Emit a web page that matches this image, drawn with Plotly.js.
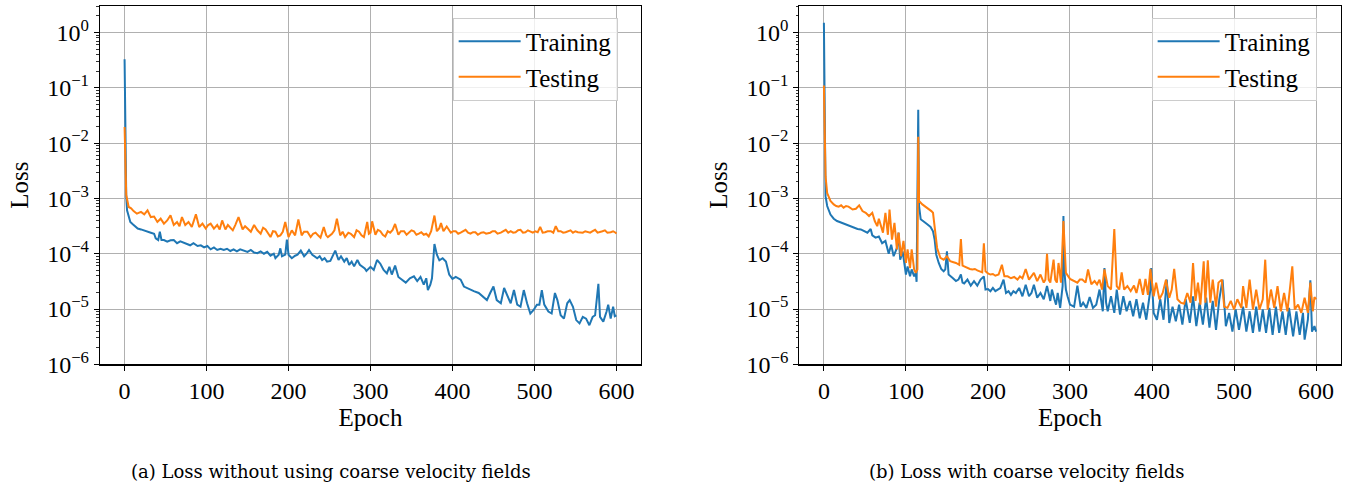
<!DOCTYPE html>
<html>
<head>
<meta charset="utf-8">
<script src="https://cdn.plot.ly/plotly-3.0.1.min.js"></script>
<style>html,body{margin:0;padding:0;background:#fff;}#chart{width:1346px;height:484px;}</style>
</head>
<body>
<div id="chart"></div>
<script>
// ---------- (a) Loss without using coarse velocity fields ----------
const aTrainEpoch = [0,1,2,3,5,7,10,13,16,20,24,28,32,36,38,41,43,45,48,52,56,60,64,68,72,76,80,84,89,93,97,101,105,109,113,117,121,125,129,133,137,141,146,150,154,158,162,166,170,174,178,182,184,188,190,192,196,198,200,204,208,211,215,219,222,225,229,232,235,238,241,244,247,251,254,257,261,264,268,271,274,277,280,284,287,290,293,295,300,304,308,312,316,320,323,326,330,334,339,343,348,353,357,361,365,368,370,373,375,378,381,384,388,392,396,400,404,410,414,420,426,432,438,442,446,450,454,459,463,467,471,475,479,483,487,491,495,499,503,506,509,512,517,521,525,528,532,536,540,543,547,551,555,559,563,567,571,574,578,580,584,588,590,593,596,598,600];
const aTrain = [0.33,0.004,1.1e-3,6.1e-4,4.8e-4,3.75e-4,3.4e-4,3.05e-4,2.85e-4,2.75e-4,2.6e-4,2.48e-4,2.4e-4,2.3e-4,1.9e-4,1.77e-4,2.5e-4,1.77e-4,1.77e-4,1.65e-4,1.75e-4,1.77e-4,1.55e-4,1.67e-4,1.58e-4,1.5e-4,1.42e-4,1.55e-4,1.38e-4,1.42e-4,1.3e-4,1.38e-4,1.2e-4,1.3e-4,1.17e-4,1.23e-4,1.17e-4,1.23e-4,1.12e-4,1.2e-4,1.1e-4,1.2e-4,1.14e-4,1.08e-4,1.17e-4,1.05e-4,1.02e-4,1.1e-4,1.0e-4,1.08e-4,9.2e-5,1.0e-4,8.3e-5,9.6e-5,1.25e-4,9.0e-5,9.6e-5,1.8e-4,9.6e-5,8.3e-5,9.2e-5,9.6e-5,1.14e-4,9.0e-5,1.0e-4,1.17e-4,9.6e-5,9.0e-5,8.3e-5,9.0e-5,7.7e-5,8.3e-5,7.2e-5,7.4e-5,9.0e-5,1.14e-4,7.7e-5,9.0e-5,7.2e-5,8.3e-5,6.3e-5,7.2e-5,5.9e-5,7.7e-5,6.3e-5,5.9e-5,5.4e-5,4.9e-5,5.8e-5,5.1e-5,7.7e-5,6.6e-5,5.1e-5,4.4e-5,5.8e-5,4.2e-5,6.1e-5,3.8e-5,3.4e-5,3.0e-5,3.6e-5,3.9e-5,3.2e-5,3.8e-5,2.75e-5,3.6e-5,2.2e-5,2.75e-5,3.6e-5,1.5e-4,9.6e-5,7.6e-5,8.3e-5,7.2e-5,4.2e-5,3.5e-5,3.8e-5,3.4e-5,2.55e-5,2.3e-5,2.1e-5,1.95e-5,1.6e-5,1.45e-5,1.95e-5,2.55e-5,1.45e-5,1.27e-5,2.4e-5,1.7e-5,1.27e-5,2.2e-5,1.2e-5,1.1e-5,2.2e-5,1.27e-5,8.3e-6,9.6e-6,1.2e-5,1.2e-5,2.2e-5,1.2e-5,9.0e-6,8.3e-6,1.95e-5,1.45e-5,7.7e-6,6.7e-6,1.27e-5,1.45e-5,1.1e-5,6.3e-6,5.5e-6,7.2e-6,6.7e-6,5.1e-6,7.2e-6,7.7e-6,2.85e-5,7.2e-6,5.9e-6,9.0e-6,1.2e-5,6.7e-6,1.1e-5,7.4e-6,7.7e-6];

const aTestEpoch = [0,1,2,5,8,11,15,20,24,28,32,36,40,44,48,52,56,60,64,67,70,74,78,82,87,91,95,99,102,105,109,113,116,119,123,126,129,132,135,139,144,147,150,154,158,162,166,169,172,175,178,181,184,187,190,193,196,200,204,208,212,216,219,223,227,230,233,236,239,243,246,248,253,256,259,263,266,269,273,276,280,283,286,289,292,296,298,300,302,306,309,312,315,318,321,324,327,330,334,337,341,344,347,350,353,356,359,362,365,368,371,374,378,381,384,386,389,393,398,401,404,407,410,413,416,419,422,425,428,431,435,438,441,446,449,452,455,459,462,465,468,471,474,477,480,483,486,489,492,495,498,501,504,507,510,513,516,520,523,526,529,532,535,538,541,544,547,550,553,556,559,562,565,568,571,574,577,580,583,586,589,593,596,599,600];
const aTest = [0.0195,3e-3,1.15e-3,7e-4,6.6e-4,5.9e-4,5.3e-4,5.7e-4,5.15e-4,6.1e-4,4.6e-4,4.7e-4,3.75e-4,4.3e-4,3.5e-4,4.0e-4,4.95e-4,3.3e-4,3.75e-4,3.15e-4,4.6e-4,3.3e-4,3.75e-4,3.05e-4,5.15e-4,3.05e-4,3.5e-4,2.85e-4,3.3e-4,3.5e-4,2.85e-4,3.3e-4,2.75e-4,4.0e-4,2.75e-4,3.3e-4,2.95e-4,2.65e-4,3.3e-4,4.6e-4,2.75e-4,3.15e-4,2.85e-4,2.5e-4,3.3e-4,2.65e-4,2.3e-4,2.95e-4,2.75e-4,2.4e-4,2.0e-4,2.55e-4,2.5e-4,2.05e-4,2.15e-4,2.5e-4,3.75e-4,2.0e-4,2.65e-4,2.15e-4,4.15e-4,2.15e-4,2.5e-4,2.5e-4,2.0e-4,2.3e-4,2.4e-4,2.15e-4,1.95e-4,3.05e-4,2.15e-4,2.0e-4,2.3e-4,2.65e-4,4.3e-4,2.15e-4,2.5e-4,2.0e-4,2.4e-4,2.3e-4,2.0e-4,2.65e-4,2.5e-4,2.15e-4,2.0e-4,3.75e-4,2.3e-4,2.4e-4,3.85e-4,2.2e-4,2.7e-4,2.55e-4,2.2e-4,2.05e-4,2.55e-4,2.4e-4,2.7e-4,3.45e-4,2.2e-4,2.55e-4,2.55e-4,2.2e-4,2.4e-4,2.65e-4,2.55e-4,2.2e-4,2.3e-4,2.45e-4,2.2e-4,2.3e-4,2.05e-4,2.55e-4,4.9e-4,2.55e-4,2.9e-4,3.6e-4,2.55e-4,3.1e-4,2.4e-4,2.55e-4,2.55e-4,2.3e-4,2.4e-4,2.55e-4,2.7e-4,2.4e-4,2.3e-4,2.45e-4,2.45e-4,2.2e-4,2.4e-4,2.45e-4,2.3e-4,2.4e-4,2.55e-4,2.55e-4,2.3e-4,2.4e-4,2.55e-4,2.7e-4,2.4e-4,2.55e-4,2.4e-4,2.45e-4,2.65e-4,2.7e-4,2.4e-4,2.45e-4,2.65e-4,2.55e-4,2.4e-4,2.55e-4,2.45e-4,3.05e-4,2.4e-4,2.45e-4,2.55e-4,2.55e-4,2.4e-4,3.15e-4,2.55e-4,2.55e-4,2.4e-4,2.45e-4,2.55e-4,2.65e-4,2.4e-4,2.55e-4,2.45e-4,2.45e-4,2.4e-4,2.55e-4,2.45e-4,2.4e-4,2.55e-4,2.7e-4,2.4e-4,2.45e-4,2.55e-4,2.65e-4,2.4e-4,2.45e-4,2.55e-4,2.4e-4,2.3e-4];

// ---------- (b) Loss with coarse velocity fields ----------
const bTrainEpoch = [0,1,2,4,8,12,16,20,24,28,33,37,41,45,49,53,57,59,63,67,71,75,79,82,85,89,91,93,96,100,102,105,107,110,112,113,115,116,118,122,126,130,133,135,137,140,143,146,148,150,152,157,161,164,167,169,171,175,179,183,187,191,195,197,200,203,206,209,212,215,219,222,225,228,231,234,238,242,246,250,253,256,260,264,268,272,276,278,281,283,285,288,291,292,293,295,297,300,305,309,313,316,320,324,328,332,336,340,342,344,346,350,354,357,361,365,369,373,377,381,385,389,393,396,398,399,402,406,410,414,418,421,425,429,433,437,441,446,450,454,458,462,466,470,474,478,482,486,490,494,498,502,506,511,515,519,523,527,531,535,539,543,547,551,555,559,563,567,572,576,580,584,586,590,593,595,598,600];
const bTrain = [1.5,0.01,1.1e-3,7.3e-4,5.1e-4,4.3e-4,3.9e-4,3.7e-4,3.5e-4,3.4e-4,3.16e-4,3.0e-4,2.8e-4,2.75e-4,2.55e-4,2.4e-4,2.8e-4,2.15e-4,1.95e-4,2.05e-4,1.55e-4,1.7e-4,1.0e-4,1.45e-4,9.0e-5,1.27e-4,2.4e-4,7.8e-5,1.1e-4,4.2e-5,5.9e-5,3.9e-5,5.2e-5,3.9e-5,4.5e-5,3.1e-5,0.04,7.3e-4,4.2e-4,3.7e-4,3.4e-4,3.05e-4,2.55e-4,1.8e-4,9.6e-5,6.8e-5,5.3e-5,4.8e-5,5.2e-5,1.1e-4,4.2e-5,3.65e-5,3.2e-5,3.4e-5,4.2e-5,3.0e-5,2.9e-5,3.4e-5,2.65e-5,3.2e-5,2.65e-5,3.4e-5,3.9e-5,2.25e-5,2.3e-5,2.1e-5,2.4e-5,2.1e-5,2.25e-5,2.4e-5,3.4e-5,1.95e-5,2.1e-5,1.8e-5,2.1e-5,1.95e-5,2.4e-5,1.7e-5,2.75e-5,1.7e-5,1.95e-5,2.75e-5,1.6e-5,1.95e-5,1.5e-5,2.6e-5,1.4e-5,2.25e-5,1.5e-5,1.2e-5,1.95e-5,1.05e-5,2.6e-5,4.8e-4,5.2e-5,2.25e-5,1.7e-5,1.2e-5,1.1e-5,2.65e-5,1.1e-5,1.3e-5,1.05e-5,1.65e-5,1.05e-5,1.2e-5,2.25e-5,9.1e-6,5.5e-5,1.3e-5,9.1e-6,1.7e-5,8.5e-6,2.25e-5,7.9e-6,1.7e-5,9.1e-6,1.4e-5,7.4e-6,1.5e-5,6.8e-6,1.3e-5,6.4e-6,1.5e-5,2.25e-5,5.5e-5,8.5e-6,6.4e-6,1.5e-5,6.4e-6,3.4e-5,5.6e-6,1.1e-5,6.0e-6,1.2e-5,5.2e-6,1.5e-5,5.6e-6,1.7e-5,4.9e-6,1.3e-5,5.2e-6,1.6e-5,4.6e-6,1.4e-5,4.2e-6,1.5e-5,3.4e-5,4.9e-6,8.5e-6,3.9e-6,9.8e-6,4.2e-6,1.1e-5,3.9e-6,9.1e-6,3.7e-6,1.1e-5,3.9e-6,9.8e-6,3.7e-6,1.05e-5,3.4e-6,1.1e-5,3.7e-6,9.1e-6,3.4e-6,1.05e-5,3.2e-6,9.1e-6,3.4e-6,8.5e-6,2.8e-6,6.4e-6,3.3e-5,3.9e-6,4.9e-6,3.9e-6];

const bTestEpoch = [0,1,2,4,8,12,15,18,21,24,27,30,33,35,39,43,47,51,55,59,62,65,67,69,72,75,78,80,83,86,89,91,94,97,100,102,105,107,110,112,114,115,116,120,124,128,131,133,136,138,142,146,150,154,158,161,165,167,169,172,175,178,181,184,187,190,193,195,197,200,203,206,209,213,217,220,224,228,232,236,239,242,246,250,253,256,260,264,268,270,272,274,276,280,282,284,286,289,292,295,300,305,309,312,315,319,322,326,330,333,336,339,342,346,350,354,357,360,363,366,370,374,378,381,385,389,392,395,398,402,405,409,413,417,421,424,427,431,435,439,443,447,450,453,456,459,463,465,468,471,474,478,481,485,488,492,496,500,504,509,511,515,519,523,527,531,535,538,541,545,549,553,557,561,565,568,571,574,578,582,586,590,593,596,598,600];
const bTest = [0.11,0.008,2.5e-3,1.25e-3,9.0e-4,7.8e-4,7.3e-4,7.1e-4,7.5e-4,6.8e-4,7.3e-4,7.1e-4,6.5e-4,6.3e-4,6.5e-4,7.5e-4,5.9e-4,5.5e-4,4.8e-4,5.5e-4,3.9e-4,3.15e-4,4.3e-4,3.4e-4,2.4e-4,5.5e-4,2.2e-4,6.3e-4,1.8e-4,3.6e-4,1.2e-4,2.4e-4,9.0e-5,1.7e-4,6.8e-5,1.2e-4,5.5e-5,1.2e-4,5.2e-5,4.5e-5,5.2e-5,0.013,9.0e-4,7.8e-4,7.1e-4,6.5e-4,5.9e-4,5.5e-4,2.4e-4,1.27e-4,8.4e-5,7.8e-5,9.0e-5,7.3e-5,7.0e-5,6.8e-5,6.3e-5,1.85e-4,6.1e-5,5.8e-5,5.5e-5,5.3e-5,5.2e-5,5.3e-5,5.0e-5,4.8e-5,4.6e-5,1.55e-4,4.8e-5,4.4e-5,4.2e-5,4.3e-5,4.0e-5,4.2e-5,6.3e-5,3.9e-5,3.9e-5,3.6e-5,3.8e-5,3.4e-5,3.9e-5,3.6e-5,5.3e-5,3.4e-5,3.9e-5,4.5e-5,3.2e-5,4.2e-5,3.0e-5,3.4e-5,1.0e-4,3.4e-5,3.0e-5,7.8e-5,3.4e-5,3.0e-5,6.8e-5,3.0e-5,3.9e-4,4.5e-5,3.5e-5,3.2e-5,3.0e-5,3.4e-5,3.4e-5,3.0e-5,5.2e-5,2.8e-5,3.2e-5,2.8e-5,3.4e-5,2.25e-5,5.2e-5,2.6e-5,2.25e-5,2.8e-4,2.6e-5,2.25e-5,4.6e-5,2.25e-5,2.6e-5,2.1e-5,2.65e-5,1.95e-5,3.5e-5,1.8e-5,3.5e-5,1.8e-5,5.3e-5,1.7e-5,3.0e-5,1.5e-5,1.95e-5,3.4e-5,1.6e-5,2.25e-5,5.3e-5,1.5e-5,1.3e-5,1.25e-5,1.95e-5,1.3e-5,6.8e-5,1.4e-5,3.0e-5,1.2e-5,7.3e-5,1.3e-5,7.6e-5,1.3e-5,3.4e-5,1.1e-5,3.0e-5,3.4e-5,1.1e-5,1.05e-5,1.4e-5,9.8e-6,1.5e-5,1.05e-5,2.6e-5,1.05e-5,3.4e-5,9.8e-6,2.25e-5,9.8e-6,1.5e-5,7.8e-5,9.8e-6,2.25e-5,1.05e-5,2.6e-5,9.1e-6,1.95e-5,9.1e-6,2.25e-5,5.9e-5,9.8e-6,1.2e-5,8.5e-6,1.6e-5,8.5e-6,3.0e-5,9.1e-6,1.65e-5,1.5e-5];

const seriesNames = ["Training", "Testing"];
const xTickVals = [0, 100, 200, 300, 400, 500, 600];
const yTickVals = [1e-6, 1e-5, 1e-4, 1e-3, 1e-2, 1e-1, 1];
const yTickText = ["10<sup>\u22126</sup>","10<sup>\u22125</sup>","10<sup>\u22124</sup>","10<sup>\u22123</sup>","10<sup>\u22122</sup>","10<sup>\u22121</sup>","10<sup>0</sup>"];
const captions = ["(a) Loss without using coarse velocity fields", "(b) Loss with coarse velocity fields"];

const BLUE = "#1f77b4", ORANGE = "#ff7f0e";
const FONT = "Liberation Serif, DejaVu Serif, serif";
const CAPFONT = "DejaVu Serif, serif";

const traces = [
  {x: aTrainEpoch, y: aTrain, name: seriesNames[0], xaxis: "x", yaxis: "y", legend: "legend", line: {color: BLUE, width: 2}, mode: "lines"},
  {x: aTestEpoch, y: aTest, name: seriesNames[1], xaxis: "x", yaxis: "y", legend: "legend", line: {color: ORANGE, width: 2}, mode: "lines"},
  {x: bTrainEpoch, y: bTrain, name: seriesNames[0], xaxis: "x2", yaxis: "y2", legend: "legend2", line: {color: BLUE, width: 2}, mode: "lines"},
  {x: bTestEpoch, y: bTest, name: seriesNames[1], xaxis: "x2", yaxis: "y2", legend: "legend2", line: {color: ORANGE, width: 2}, mode: "lines"}
];

function xAxis(domain, anchor) {
  return {
    domain: domain, anchor: anchor, range: [-30, 630],
    tickmode: "array", tickvals: xTickVals,
    ticks: "outside", ticklen: 5, tickwidth: 1, tickcolor: "#000",
    showline: true, mirror: true, linecolor: "#000", linewidth: 1.2,
    showgrid: true, gridcolor: "#b0b0b0", gridwidth: 1, zeroline: false,
    tickfont: {family: FONT, size: 24, color: "#000"},
    title: {text: "Epoch", font: {family: FONT, size: 25, color: "#000"}, standoff: 2},
    automargin: false
  };
}
function yAxis(domain, anchor) {
  return {
    domain: domain, anchor: anchor, type: "log", range: [-6, 0.48],
    tickmode: "array", tickvals: yTickVals, ticktext: yTickText,
    ticks: "outside", ticklen: 5, tickwidth: 1, tickcolor: "#000",
    minor: {dtick: "D1", ticks: "outside", ticklen: 2.5, tickcolor: "#000", tickwidth: 0.8, showgrid: false},
    showline: true, mirror: true, linecolor: "#000", linewidth: 1.2,
    showgrid: true, gridcolor: "#b0b0b0", gridwidth: 1, zeroline: false,
    tickfont: {family: FONT, size: 24, color: "#000"},
    title: {text: "Loss", font: {family: FONT, size: 25, color: "#000"}, standoff: 11},
    automargin: false
  };
}
const yDom = [0.2473, 0.9876];
function legendCfg(x) {
  return {x: x, y: 0.9636, xanchor: "left", yanchor: "top", xref: "paper", yref: "paper",
    bgcolor: "rgba(255,255,255,0.8)", bordercolor: "#cccccc", borderwidth: 1,
    font: {family: FONT, size: 25, color: "#000"}, itemwidth: 62, tracegroupgap: 0};
}

const layout = {
  width: 1346, height: 484,
  margin: {l: 0, r: 0, t: 0, b: 0},
  paper_bgcolor: "#fff", plot_bgcolor: "#fff",
  showlegend: true,
  xaxis: xAxis([0.07429, 0.47623], "y"),
  yaxis: yAxis(yDom, "x"),
  xaxis2: xAxis([0.59383, 0.99606], "y2"),
  yaxis2: yAxis(yDom, "x2"),
  legend: legendCfg(0.3363),
  legend2: legendCfg(0.8556),
  annotations: [
    {text: captions[0], x: 331/1346, y: 1 - 471/484, xref: "paper", yref: "paper", showarrow: false, xanchor: "center", yanchor: "middle", font: {family: CAPFONT, size: 18, color: "#000"}},
    {text: captions[1], x: 1026.5/1346, y: 1 - 471/484, xref: "paper", yref: "paper", showarrow: false, xanchor: "center", yanchor: "middle", font: {family: CAPFONT, size: 18, color: "#000"}}
  ]
};

Plotly.newPlot("chart", traces, layout, {staticPlot: true, displayModeBar: false});
</script>
</body>
</html>
